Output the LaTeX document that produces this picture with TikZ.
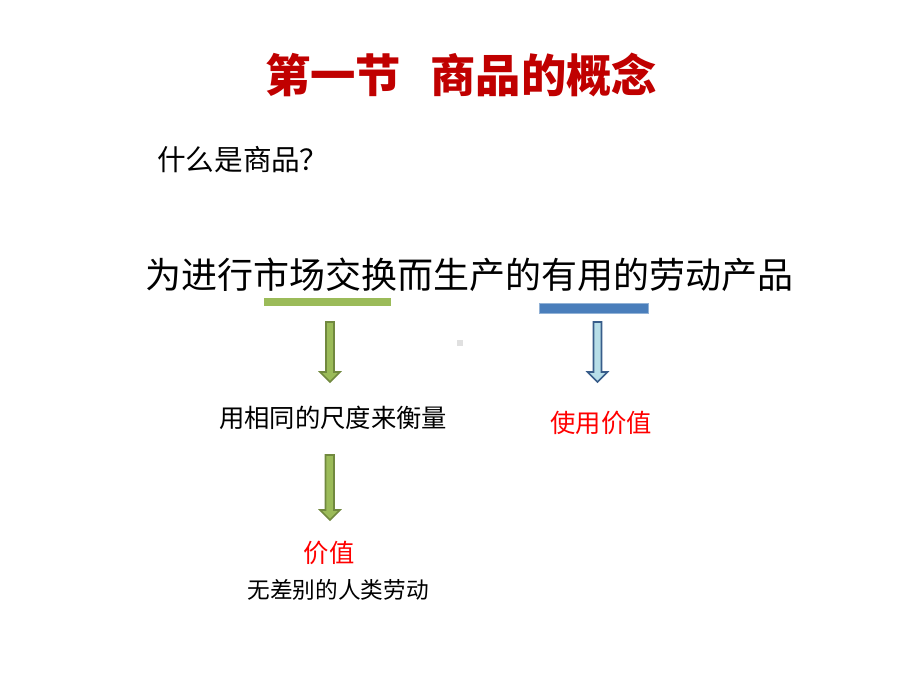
\documentclass[tikz,border=0pt]{standalone}
\usepackage{fontspec}
\setmainfont{Noto Sans CJK SC}
\definecolor{titlered}{HTML}{C00000}
\definecolor{brightred}{HTML}{FF0000}
\definecolor{greenfill}{HTML}{9BBB59}
\definecolor{greenline}{HTML}{71893F}
\definecolor{bluebar}{HTML}{4A7EBB}
\definecolor{bluefill}{HTML}{B7DEE8}
\definecolor{blueline}{HTML}{385D8A}
\begin{document}
\begin{tikzpicture}[x=0.75pt,y=-0.75pt,
  txt/.style={inner sep=0pt,anchor=center},
  garrow/.style={fill=greenfill,draw=greenline,line width=1.2pt,line join=miter},
  barrow/.style={fill=bluefill,draw=blueline,line width=1.2pt,line join=miter}]
\useasboundingbox (0,0) rectangle (920,690);
\fill[white] (0,0) rectangle (920,690);
% title
\node[txt,anchor=west,text=titlered,font=\fontsize{34}{38}\selectfont\bfseries] (title) at (265,75) {第一节\hspace{22pt}商品的概念};
\node[txt,anchor=west,font=\fontsize{21.5}{24}\selectfont] (question) at (157,160) {什么是商品\makebox[0.95em][c]{？}};
\node[txt,anchor=west,font=\fontsize{27}{30}\selectfont] (definition) at (145,275) {为进行市场交换而生产的有用的劳动产品};
% bars
\fill[greenfill] (264,298) rectangle (391,306);
\fill[bluebar,draw=bluebar!60!white,line width=0.5pt] (539,303) rectangle (648,313);
% gray square
\fill[black!12] (457,340) rectangle (463,346);
% arrow 1 (green)
\draw[garrow] (326,322) -- (334,322) -- (334,372) -- (340,372) -- (330,382) -- (320,372) -- (326,372) -- cycle;
% arrow blue
\draw[barrow] (593.5,322) -- (601.5,322) -- (601.5,372) -- (607.5,372) -- (597.5,382) -- (587.5,372) -- (593.5,372) -- cycle;
% arrow 2 (green)
\draw[garrow] (325.5,455) -- (334,455) -- (334,510) -- (340,510) -- (330,520) -- (320,510) -- (325.5,510) -- cycle;
% labels
\node[txt,font=\fontsize{19}{22}\selectfont] (measure) at (333,418) {用相同的尺度来衡量};
\node[txt,text=brightred,font=\fontsize{19}{22}\selectfont] (usevalue) at (601,423) {使用价值};
\node[txt,text=brightred,font=\fontsize{19}{22}\selectfont] (value) at (329,553) {价值};
\node[txt,font=\fontsize{17}{20}\selectfont] (labor) at (338,590) {无差别的人类劳动};
\end{tikzpicture}
\end{document}
